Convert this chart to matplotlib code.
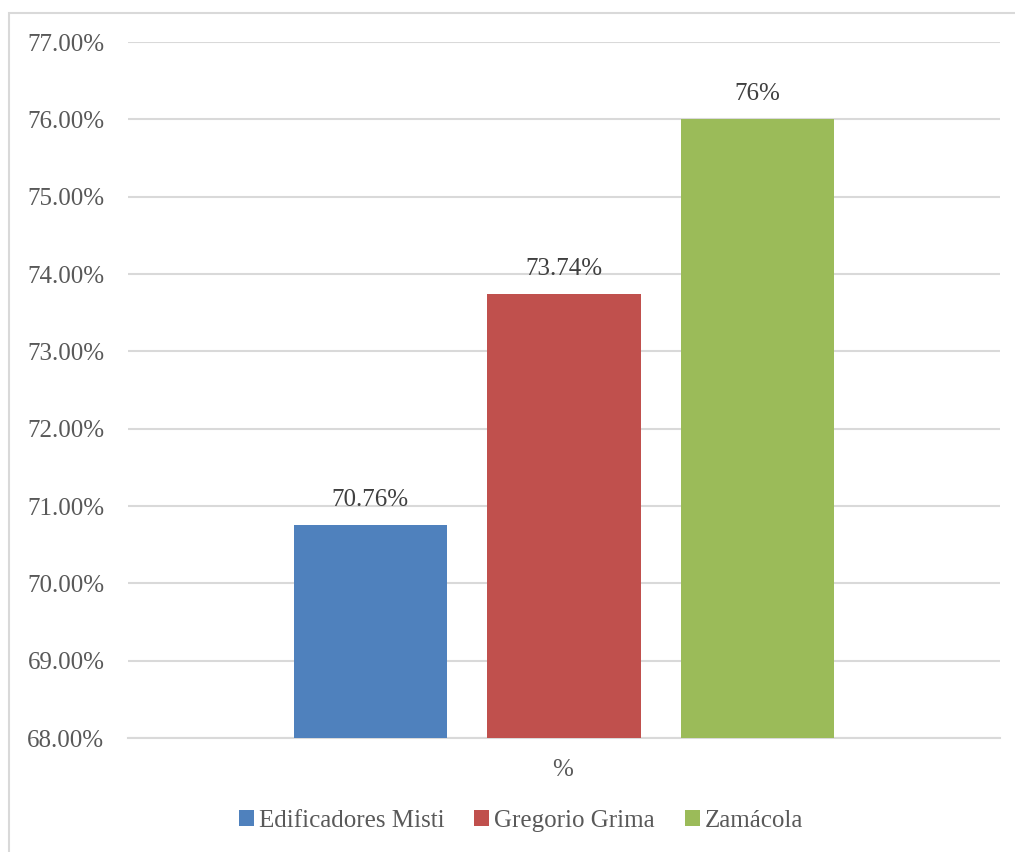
import numpy as np
import matplotlib.pyplot as plt
from matplotlib.patches import Rectangle

# Data
series = ['Edificadores Misti', 'Gregorio Grima', 'Zamácola']
values = [70.76, 73.74, 76.0]
labels = ['70.76%', '73.74%', '76%']
colors = ['#4f81bd', '#c0504d', '#9bbb59']
category = '%'

plt.rcParams['font.family'] = ['Liberation Serif', 'DejaVu Serif']

fig = plt.figure(figsize=(10.15, 8.52), dpi=100)
W, H = 1015, 852
ax = fig.add_axes([128 / W, 1 - 738 / H, 872 / W, 696 / H])

# outer chart border
fig.patches.append(Rectangle((9 / W, -0.05), 1.2, 1 - 13 / H + 0.05, transform=fig.transFigure,
                             fill=False, edgecolor='#d9d9d9', linewidth=1.5))

x = np.arange(len(series)) - 1
bars = ax.bar(x, [v - 68 for v in values], bottom=68, width=0.79, color=colors, label=series, zorder=3)
for xi, v, lab in zip(x, values, labels):
    ax.text(xi, v + 0.18, lab, ha='center', va='bottom', fontsize=18, color='#404040')

ax.set_ylim(68, 77)
ax.set_xlim(-2.25, 2.25)
ax.set_yticks(np.arange(68, 78, 1))
ax.set_yticklabels([f'{t:.2f}%' for t in np.arange(68, 78, 1)])
ax.set_xticks([])
ax.tick_params(axis='y', length=0, pad=17, labelsize=18, labelcolor='#595959')
ax.grid(axis='y', color='#d9d9d9', linewidth=1.5, zorder=0)
for s in ['left', 'right', 'top']:
    ax.spines[s].set_visible(False)
ax.spines['bottom'].set_color('#d9d9d9')
ax.spines['bottom'].set_linewidth(1.5)

fig.text(563 / W, 1 - 770 / H, category, ha='center', va='center', fontsize=18, color='#595959')

fig.legend(handles=bars, labels=series, loc='center', bbox_to_anchor=(521 / W, 1 - 821 / H),
           ncol=3, frameon=False, fontsize=18, labelcolor='#595959',
           handlelength=0.6, handleheight=0.6, handletextpad=0.2, columnspacing=1.2)

fig.savefig('out.png', dpi=100)
